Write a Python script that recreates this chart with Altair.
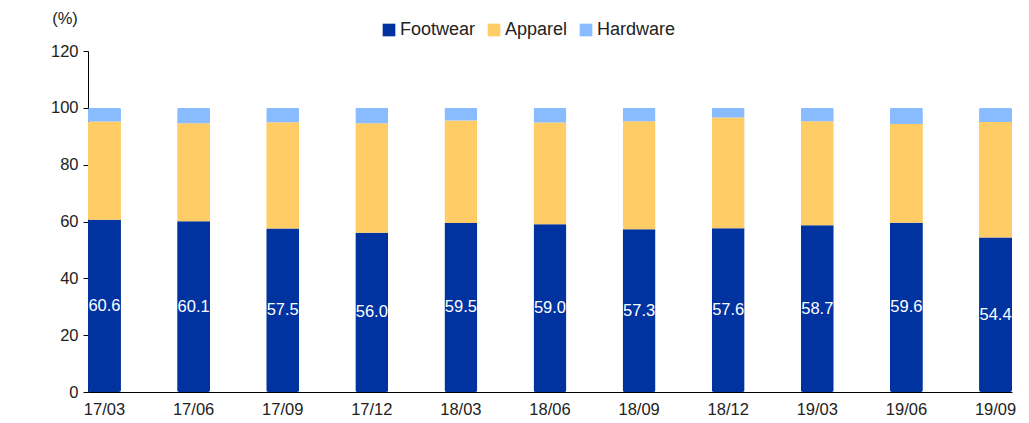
import altair as alt
import pandas as pd

quarters = ["17/03", "17/06", "17/09", "17/12", "18/03", "18/06", "18/09", "18/12", "19/03", "19/06", "19/09"]
footwear = [60.6, 60.1, 57.5, 56.0, 59.5, 59.0, 57.3, 57.6, 58.7, 59.6, 54.4]
apparel = [34.6, 34.5, 37.4, 38.6, 36.0, 35.8, 38.0, 39.0, 36.6, 34.7, 40.6]
hardware = [4.8, 5.4, 5.1, 5.4, 4.5, 5.2, 4.7, 3.4, 4.7, 5.7, 5.0]
categories = ["Footwear", "Apparel", "Hardware"]
colors = ["#0033A0", "#FFCC66", "#88BBFF"]
y_ticks = [0, 20, 40, 60, 80, 100, 120]

rows = []
for i, q in enumerate(quarters):
    for k, (cat, vals) in enumerate(zip(categories, [footwear, apparel, hardware])):
        rows.append({"q": q, "cat": cat, "v": vals[i], "order": k})
df = pd.DataFrame(rows)
lab = pd.DataFrame({"q": quarters, "v": footwear})
unit = pd.DataFrame({"t": ["(%)"]})

FONT = "Liberation Sans"
TXT = "#222222"

x = alt.X("q:N", sort=quarters,
          scale=alt.Scale(paddingInner=0.63, paddingOuter=0),
          axis=alt.Axis(title=None, labelAngle=0, ticks=False, domainColor="black",
                        labelFontSize=16.5, labelFont=FONT, labelColor=TXT,
                        labelPadding=9))

bars = alt.Chart(df).mark_bar(cornerRadius=2).encode(
    x=x,
    y=alt.Y("v:Q", stack="zero", scale=alt.Scale(domain=[0, 120]),
            axis=alt.Axis(values=y_ticks, grid=False, title=None, domainColor="black",
                          tickColor="black", tickSize=5, labelFontSize=16.5, labelFont=FONT,
                          labelColor=TXT, labelPadding=5)),
    color=alt.Color("cat:N",
                    scale=alt.Scale(domain=categories, range=colors),
                    legend=alt.Legend(title=None, orient="none", legendX=292, legendY=-30,
                                      direction="horizontal", symbolType="square",
                                      symbolSize=160, symbolStrokeWidth=0,
                                      labelFontSize=18, labelFont=FONT,
                                      labelColor=TXT, columnPadding=9,
                                      labelOffset=2)),
    order=alt.Order("order:Q"),
)

texts = alt.Chart(lab).transform_calculate(mid="datum.v / 2").mark_text(
    color="white", fontSize=16.5, font=FONT, baseline="middle"
).encode(
    x=alt.X("q:N", sort=quarters),
    y=alt.Y("mid:Q"),
    text=alt.Text("v:Q", format=".1f"),
)

unit_t = alt.Chart(unit).mark_text(fontSize=16.5, font=FONT, color=TXT).encode(
    x=alt.value(-23), y=alt.value(-32), text="t:N"
)

chart = alt.layer(bars, texts, unit_t).properties(
    width=924, height=341,
    autosize=alt.AutoSizeParams(type="none"),
    padding={"left": 80, "top": 43, "right": 9, "bottom": 30},
).configure_view(stroke=None)

chart.save("out.html", embed_options={"renderer": "svg", "actions": False})
